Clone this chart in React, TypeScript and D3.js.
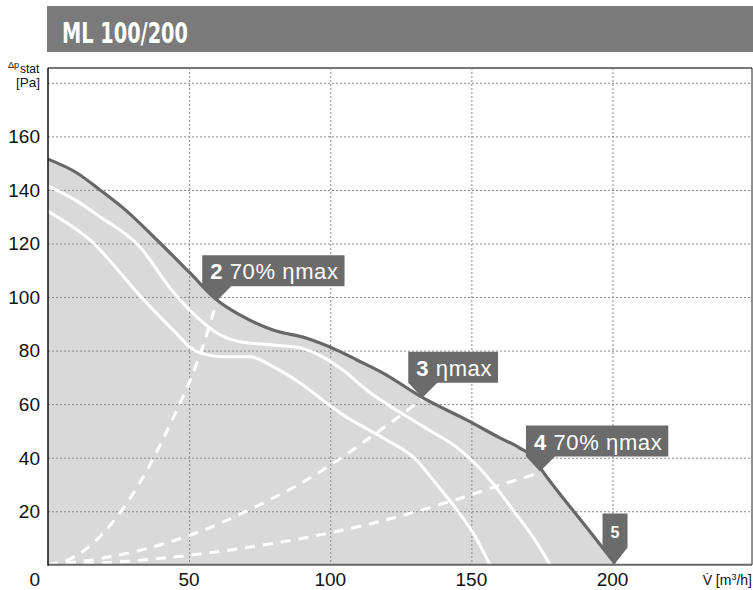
import React, { useRef, useEffect } from "react";
import * as d3 from "d3";

const W = 753;
const H = 590;

// axis ticks
const xTicks = [50, 100, 150, 200];
const yTicks = [20, 40, 60, 80, 100, 120, 140, 160];
const yGrid = [20, 40, 60, 80, 100, 120, 140, 160, 180];

// fan curves [V m3/h, dp Pa]
const curveMax: [number, number][] = [
  [0, 151.5], [10, 146.5], [18.4, 140], [28, 132], [38.6, 121.3], [50.3, 109],
  [59.8, 98.9], [68, 93.3], [79.7, 87.7], [91.7, 84.6], [103.5, 79.6], [109.4, 76.5],
  [118.7, 71.6], [132.9, 62.3], [148.3, 54.1], [160.1, 47.4], [167, 43.7], [171.8, 40.3],
  [175.4, 34.7], [183.9, 23.1], [191, 13.7], [200.9, 0.5],
];
const curveMid: [number, number][] = [
  [0, 141.5], [10, 136], [18.4, 130], [32.6, 118.7], [43.5, 103], [52.8, 92.5],
  [60, 86.5], [68, 83.3], [79.7, 82.1], [89.3, 81], [98.7, 76.8], [103.5, 73.5],
  [112.9, 65.3], [133, 51.6], [146, 42.9], [156.6, 31.7], [164.7, 20.5], [171.8, 10.4],
  [177.9, 0],
];
const curveLow: [number, number][] = [
  [0, 132], [14.9, 121.3], [32.6, 100.5], [44.3, 87.7], [52.7, 79.6], [62, 77.7],
  [71.6, 77.7], [79.7, 74], [89.3, 67.9], [98.7, 60.4], [103.5, 56.7], [120, 46.6],
  [130.6, 39.1], [136.4, 31.7], [144.9, 20.5], [150.6, 11.9], [156.6, 0],
];

// system curves (dashed)
const system2: [number, number][] = [
  [0, 0], [7, 1.8], [14, 6.3], [24.4, 17.9], [35.1, 35.4], [44.4, 55], [50, 68], [55, 82], [59.8, 98.5],
];
const system3: [number, number][] = [
  [0, 0], [20, 2.6], [49.6, 10.8], [74, 21.9], [92.8, 32.4], [117.6, 50.2], [129.3, 59.3], [132.9, 62.3],
];
const system4: [number, number][] = [
  [0, 0], [25, 1.1], [49.6, 3.5], [74, 7], [117.6, 16.2], [145, 24.5], [164.4, 31.2], [175.4, 34.7],
];

const pointLabels = [
  { num: "2", text: " 70% ηmax", at: [59.6, 98.4] },
  { num: "3", text: " ηmax", at: [132.6, 62.4] },
  { num: "4", text: " 70% ηmax", at: [174.3, 34.8] },
];
const endLabel = { num: "5", at: [200.9, 0.5] };

const FONT = "'Liberation Sans', Arial, sans-serif";

const App = () => {
  const ref = useRef<SVGSVGElement>(null);

  useEffect(() => {
    const svg = d3.select(ref.current);
    svg.selectAll("*").remove();

    const x = d3.scaleLinear().domain([0, 200]).range([48, 612.5]);
    const y = d3.scaleLinear().domain([0, 180]).range([564.8, 82.8]);
    const left = x(0);
    const right = 752;
    const top = 68;
    const bottom = y(0);

    // header bar
    svg.append("rect").attr("x", 47).attr("y", 6).attr("width", W - 47).attr("height", 46).attr("fill", "#7a7a7a");
    svg.append("text")
      .attr("x", 62).attr("y", 43)
      .attr("fill", "#fff")
      .style("font-family", "'Liberation Sans Narrow', 'DejaVu Sans Condensed', sans-serif")
      .style("font-weight", "bold")
      .style("font-size", "29px")
      .attr("textLength", 126)
      .attr("lengthAdjust", "spacingAndGlyphs")
      .text("ML 100/200");

    // area under max curve
    const area = d3.area<[number, number]>()
      .x((d) => x(d[0]))
      .y0(bottom)
      .y1((d) => y(d[1]))
      .curve(d3.curveMonotoneX);
    svg.append("path").attr("d", area(curveMax)).attr("fill", "#d9d9d9");

    // grid
    const grid = svg.append("g").attr("stroke", "#8a8a8a").attr("stroke-width", 1).attr("stroke-dasharray", "2,2");
    grid.selectAll("line.h").data(yGrid).enter().append("line")
      .attr("x1", left).attr("x2", right)
      .attr("y1", (d) => y(d) + 0.5).attr("y2", (d) => y(d) + 0.5);
    grid.selectAll("line.v").data(xTicks).enter().append("line")
      .attr("y1", top).attr("y2", bottom)
      .attr("x1", (d) => x(d) + 0.5).attr("x2", (d) => x(d) + 0.5);

    const line = d3.line<[number, number]>()
      .x((d) => x(d[0]))
      .y((d) => y(d[1]))
      .curve(d3.curveMonotoneX);

    // white characteristic curves
    [curveMid, curveLow].forEach((c) => {
      svg.append("path").attr("d", line(c)).attr("fill", "none")
        .attr("stroke", "#fff").attr("stroke-width", 3);
    });

    // dashed system curves
    [system2, system3, system4].forEach((c) => {
      svg.append("path").attr("d", line(c)).attr("fill", "none")
        .attr("stroke", "#fff").attr("stroke-width", 3)
        .attr("stroke-dasharray", "10,8");
    });

    // max curve
    svg.append("path").attr("d", line(curveMax)).attr("fill", "none")
      .attr("stroke", "#676767").attr("stroke-width", 3.2);

    // frame
    svg.append("line").attr("x1", left).attr("x2", right).attr("y1", top).attr("y2", top)
      .attr("stroke", "#777").attr("stroke-width", 2);
    svg.append("line").attr("x1", right).attr("x2", right).attr("y1", top).attr("y2", bottom)
      .attr("stroke", "#222").attr("stroke-width", 1);
    svg.append("line").attr("x1", left).attr("x2", right).attr("y1", bottom).attr("y2", bottom)
      .attr("stroke", "#666").attr("stroke-width", 2);
    svg.append("line").attr("x1", left).attr("x2", left).attr("y1", top).attr("y2", bottom + 1)
      .attr("stroke", "#111").attr("stroke-width", 1.5);

    // tick labels
    svg.append("g").selectAll("text").data(yTicks).enter().append("text")
      .attr("x", 40).attr("y", (d) => y(d)).attr("dy", "0.36em")
      .attr("text-anchor", "end")
      .style("font-family", FONT).style("font-size", "19px").attr("fill", "#111")
      .text((d) => d);
    svg.append("g").selectAll("text").data(xTicks).enter().append("text")
      .attr("x", (d) => x(d)).attr("y", 586)
      .attr("text-anchor", "middle")
      .style("font-family", FONT).style("font-size", "19px").attr("fill", "#111")
      .text((d) => d);
    svg.append("text").attr("x", 40).attr("y", 586).attr("text-anchor", "end")
      .style("font-family", FONT).style("font-size", "19px").attr("fill", "#111")
      .text("0");

    // axis titles
    const yt = svg.append("text").attr("x", 8).attr("y", 67.5)
      .style("font-family", FONT).style("font-size", "9px").attr("fill", "#111");
    yt.append("tspan").text("Δp");
    yt.append("tspan").attr("dy", 5.5).attr("dx", 1).style("font-size", "12px").text("stat");
    svg.append("text").attr("x", 40).attr("y", 87).attr("text-anchor", "end")
      .style("font-family", FONT).style("font-size", "13.5px").attr("fill", "#111").text("[Pa]");

    const vt = svg.append("text").attr("x", 752).attr("y", 585).attr("text-anchor", "end")
      .style("font-family", FONT).style("font-size", "14px").attr("fill", "#111");
    vt.append("tspan").text("V\u0307 [m");
    vt.append("tspan").attr("dy", -5).style("font-size", "9px").text("3");
    vt.append("tspan").attr("dy", 5).text("/h]");

    // point labels
    const boxFill = "#6b6b6b";
    pointLabels.forEach((lb) => {
      const vx = x(lb.at[0]);
      const vy = y(lb.at[1]);
      const L = vx - 14;
      const B = vy - 15;
      const h = 31;
      const T = B - h;
      const g = svg.append("g");
      const poly = g.append("path").attr("fill", boxFill);
      const t = g.append("text").attr("x", L + 8).attr("y", T + 24)
        .style("font-family", FONT).style("font-size", "22px")
        .style("letter-spacing", "0.6px").attr("fill", "#fff");
      t.append("tspan").style("font-weight", "bold").text(lb.num);
      t.append("tspan").text(lb.text);
      const tw = (t.node() as SVGTextElement).getComputedTextLength();
      const R = L + tw + 14;
      poly.attr("d", `M${L},${T}H${R}V${B}H${L + 29}L${vx},${vy}L${L},${B}Z`);
    });

    // end point label
    {
      const vx = x(endLabel.at[0]);
      const vy = y(endLabel.at[1]);
      const w = 25;
      const B = vy - 16;
      const T = B - 34;
      svg.append("path").attr("fill", boxFill)
        .attr("d", `M${vx - w / 2},${T}H${vx + w / 2}V${B}L${vx},${vy}L${vx - w / 2},${B}Z`);
      svg.append("text").attr("x", vx).attr("y", T + 25).attr("text-anchor", "middle")
        .style("font-family", FONT).style("font-size", "16px").style("font-weight", "bold")
        .attr("fill", "#fff").text(endLabel.num);
    }
  }, []);

  return (
    <svg
      ref={ref}
      width={W}
      height={H}
      style={{ position: "absolute", left: 0, top: 0, background: "#fff" }}
    />
  );
};

export default App;
